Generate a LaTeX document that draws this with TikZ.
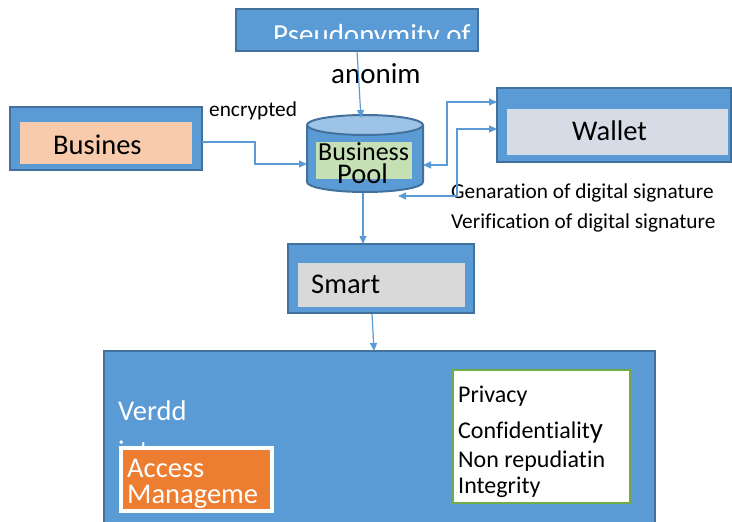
\documentclass[tikz,border=0pt]{standalone}
\usepackage{fontspec}
\setmainfont{Carlito}[Ligatures=NoCommon]
\usetikzlibrary{arrows.meta}
\definecolor{bluef}{HTML}{5B9BD5}
\definecolor{blued}{HTML}{41719C}
\definecolor{bluel}{HTML}{9DC3E6}
\definecolor{peach}{HTML}{F8CBAD}
\definecolor{wgrey}{HTML}{D6DCE5}
\definecolor{sgrey}{HTML}{D9D9D9}
\definecolor{lgreen}{HTML}{C5E0B4}
\definecolor{orng}{HTML}{ED7D31}
\definecolor{dgreen}{HTML}{70AD47}
\begin{document}
\begin{tikzpicture}[x=1pt,y=-1pt,
  outerbox/.style={draw=blued, line width=2pt, fill=bluef, inner sep=0pt, outer sep=0pt},
  inbox/.style={inner sep=0pt, outer sep=0pt},
  tip/.tip={Triangle[length=8pt,width=7pt]},
  conn/.style={draw=bluef, line width=1.2pt, -tip},
  conntwo/.style={draw=bluef, line width=1.2pt, tip-tip},
  big/.style={inner sep=0pt, anchor=base west, font=\fontsize{28.5pt}{30pt}\selectfont},
  small/.style={inner sep=0pt, anchor=base west, font=\fontsize{21.3pt}{22pt}\selectfont},
  list/.style={inner sep=0pt, anchor=base west, font=\fontsize{24pt}{25pt}\selectfont}]
\useasboundingbox (0,0) rectangle (732,522);

% top box
\node[outerbox, minimum width=242pt, minimum height=42pt] (pseudo) at (357,30) {};
\begin{scope}
\clip (237,11) rectangle (477,38);
\node[big, font=\fontsize{29pt}{30pt}\selectfont, text=white] (pseudotext) at (273,44) {Pseudonymity of};
\end{scope}
\node[big, font=\fontsize{29pt}{30pt}\selectfont] (anonim) at (331,83) {anonim};

% business
\node[outerbox, minimum width=192pt, minimum height=63pt] (busout) at (106,138.5) {};
\node[inbox, fill=peach, minimum width=172pt, minimum height=42pt] (busin) at (106,143) {};
\node[big] (bustext) at (53,154) {Busines};
\node[small] (enc) at (209,116) {encrypted};

% pool cylinder
\fill[bluef] (307,125) -- (307,182) arc[start angle=180,end angle=360,x radius=58pt,y radius=10pt] -- (423,125) -- cycle;
\draw[blued, line width=2pt] (307,125) -- (307,182) arc[start angle=180,end angle=360,x radius=58pt,y radius=10pt] -- (423,125);
\draw[blued, line width=2pt, fill=bluel] (365,125) ellipse [x radius=58pt, y radius=10pt];
\node[inbox, minimum width=116pt, minimum height=77pt] (pool) at (365,153.5) {};
\node[inbox, fill=lgreen, minimum width=96pt, minimum height=37pt] (poolin) at (364,160.5) {};
\begin{scope}
\clip (316,142) rectangle (412,161);
\node[big, font=\fontsize{26pt}{27pt}\selectfont] (pooltext1) at (318,160) {Business};
\end{scope}
\node[big] (pooltext2) at (337,183) {Pool};

% wallet
\node[outerbox, minimum width=234pt, minimum height=74pt] (walout) at (614,125) {};
\node[inbox, fill=wgrey, minimum width=221pt, minimum height=46pt] (walin) at (617.5,132) {};
\node[big] (waltext) at (572,140) {Wallet};
\node[small] (gen) at (451,198) {Genaration of digital signature};
\node[small] (ver) at (451,228) {Verification of digital signature};

% smart
\node[outerbox, minimum width=186pt, minimum height=69pt] (smartout) at (381,278.5) {};
\node[inbox, fill=sgrey, minimum width=167pt, minimum height=44pt] (smartin) at (381.5,285) {};
\node[big] (smarttext) at (311,293) {Smart};

% big box
\node[outerbox, minimum width=551pt, minimum height=189pt] (bigbox) at (379.5,445.5) {};
\node[big, text=white] (verdd) at (118,420) {Verdd};
\node[big, text=white] (intt) at (118,460) {int};
\node[inbox, draw=white, line width=4pt, fill=orng, minimum width=151pt, minimum height=63pt] (access) at (196.5,479.5) {};
\node[big, text=white] (acc1) at (127,477) {Access};
\node[big, text=white] (acc2) at (127,503) {Manageme};
\node[inbox, draw=dgreen, line width=2.5pt, fill=white, minimum width=177pt, minimum height=133pt] (priv) at (541.5,436.5) {};
\node[list] (p1) at (458,402) {Privacy};
\node[list] (p2) at (458,438) {Confidentialit{\fontsize{29pt}{30pt}\selectfont y}};
\node[list] (p3) at (458,467) {Non repudiatin};
\node[list] (p4) at (458,493) {Integrity};

% connector end points
\coordinate (poolTop) at (361,118);
\coordinate (busR) at (202,142);
\coordinate (poolL) at (307,164);
\coordinate (poolR) at (423,165);
\coordinate (walA) at (497,102);
\coordinate (poolB) at (398,196);
\coordinate (walB) at (497,129);
\coordinate (poolBot) at (363,193);
\coordinate (smartTop) at (363,244);
\coordinate (smartBot) at (372,314);
\coordinate (bigTop) at (374,351);

\draw[conn] (pseudo.south) -- (poolTop);
\draw[conn] (busR) -- ++(53,0) |- (poolL);
\draw[conntwo] (poolR) -- ++(24,0) |- (walA);
\draw[conntwo] (poolB) -- ++(59,0) |- (walB);
\draw[conn] (poolBot) -- (smartTop);
\draw[conn] (smartBot) -- (bigTop);
\end{tikzpicture}
\end{document}
